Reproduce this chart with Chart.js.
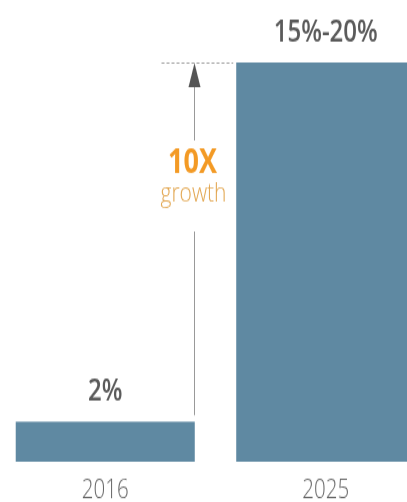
<!DOCTYPE html>
<html>
<head>
<meta charset="utf-8">
<script src="https://cdn.jsdelivr.net/npm/chart.js@4"></script>
<style>
  html, body { margin: 0; padding: 0; background: #ffffff; overflow: hidden; width: 407px; height: 502px; }
  #wrap { position: absolute; left: -5px; top: 0; }
  /* drawing surface is laid out at 386px tall and shown at 502px, giving the tall, narrow lettering */
  #c { display: block; width: 441px; height: 502px; }
</style>
</head>
<body>
<div id="wrap"><canvas id="c" width="441" height="386" style="width:441px;height:502px"></canvas></div>
<script>
// Share by year (percent)
const years = ['2016', '2025'];
const shares = [2, 20];
const shareLabels = ['2%', '15%-20%'];
const growthMultiple = '10X';
const growthWord = 'growth';

const BAR_BLUE = '#5f89a2';

// Value labels above bars plus the "10X growth" arrow between them
const annotations = {
  id: 'annotations',
  afterDatasetsDraw(chart) {
    const ctx = chart.ctx;
    const bars = chart.getDatasetMeta(0).data;
    const low = bars[0];
    const high = bars[1];

    ctx.save();
    ctx.textAlign = 'center';

    // value labels
    ctx.fillStyle = '#5a5a5a';
    ctx.font = '600 24px "Open Sans"';
    ctx.textBaseline = 'alphabetic';
    bars.forEach((b, i) => ctx.fillText(shareLabels[i], b.x, b.y - 16));

    // arrow between the two bar tops
    const ax = Math.round(low.x + low.width / 2) - 0.5;
    const topY = high.y;
    const lowTop = low.y;

    ctx.strokeStyle = '#a0a0a0';
    ctx.lineWidth = 1;
    ctx.setLineDash([3, 2]);
    ctx.beginPath();
    ctx.moveTo(ax - 33, topY + 0.5);
    ctx.lineTo(high.x - high.width / 2 - 3, topY + 0.5);
    ctx.stroke();
    ctx.setLineDash([]);

    ctx.strokeStyle = '#999999';
    ctx.beginPath();
    ctx.moveTo(ax, topY + 10);
    ctx.lineTo(ax, 108);
    ctx.moveTo(ax, 178);
    ctx.lineTo(ax, lowTop - 5);
    ctx.stroke();

    ctx.fillStyle = '#555555';
    ctx.beginPath();
    ctx.moveTo(ax, topY + 0.5);
    ctx.lineTo(ax - 6, topY + 19);
    ctx.lineTo(ax + 6, topY + 19);
    ctx.closePath();
    ctx.fill();

    // growth callout
    ctx.fillStyle = '#f39a25';
    ctx.font = '700 27px "Open Sans"';
    ctx.fillText(growthMultiple, ax - 2, 133);
    ctx.fillStyle = '#e2a650';
    ctx.font = '300 21px "Open Sans"';
    ctx.fillText(growthWord, ax - 1, 155);

    ctx.restore();
  }
};

new Chart(document.getElementById('c'), {
  type: 'bar',
  data: {
    labels: years,
    datasets: [{
      data: shares,
      backgroundColor: BAR_BLUE,
      borderWidth: 0,
      barPercentage: 0.812,
      categoryPercentage: 1.0
    }]
  },
  options: {
    responsive: false,
    animation: false,
    layout: { padding: { top: 48, left: 0, right: 0, bottom: 0 } },
    plugins: { legend: { display: false }, tooltip: { enabled: false } },
    scales: {
      x: {
        grid: { display: false },
        border: { display: false },
        ticks: {
          color: '#666666',
          padding: 2,
          font: { family: 'Open Sans', size: 20.5, weight: '300' }
        },
        afterFit(scale) { scale.height = 31; }
      },
      y: { display: false, min: 0, max: 20 }
    }
  },
  plugins: [annotations]
});
</script>
</body>
</html>
